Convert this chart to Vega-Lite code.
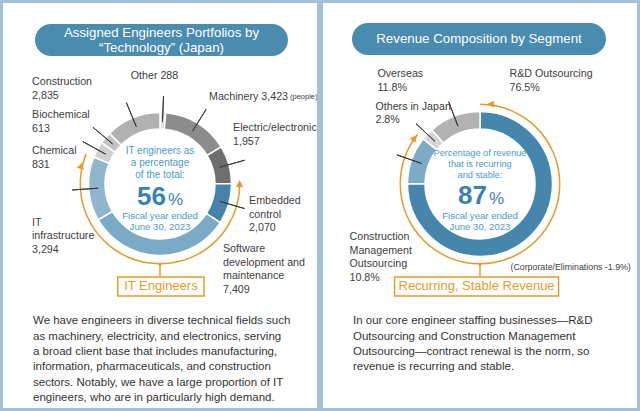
{
  "$schema": "https://vega.github.io/schema/vega-lite/v6.json",
  "background": "#a2c1d8",
  "padding": {"left": 3, "top": 3, "right": 3, "bottom": 3},
  "config": {"view": {"stroke": null, "fill": "#ffffff"}, "font": "Liberation Sans"},
  "datasets": {
    "tech": [
      {"seg": "Other", "v": 288, "group": "Non-IT", "label": "Other 288"},
      {"seg": "Machinery", "v": 3423, "group": "Non-IT", "label": "Machinery 3,423"},
      {"seg": "Electric/electronic", "v": 1957, "group": "Non-IT", "label": "Electric/electronic\n1,957"},
      {"seg": "Embedded control", "v": 2070, "group": "IT", "label": "Embedded\ncontrol\n2,070"},
      {"seg": "Software development and maintenance", "v": 7409, "group": "IT", "label": "Software\ndevelopment and\nmaintenance\n7,409"},
      {"seg": "IT infrastructure", "v": 3294, "group": "IT", "label": "IT\ninfrastructure\n3,294"},
      {"seg": "Chemical", "v": 831, "group": "Non-IT", "label": "Chemical\n831"},
      {"seg": "Biochemical", "v": 613, "group": "Non-IT", "label": "Biochemical\n613"},
      {"seg": "Construction", "v": 2835, "group": "Non-IT", "label": "Construction\n2,835"}
    ],
    "rev": [
      {"seg": "R&D Outsourcing", "v": 76.5, "group": "Recurring", "label": "R&D Outsourcing\n76.5%"},
      {"seg": "Construction Management Outsourcing", "v": 10.8, "group": "Recurring", "label": "Construction\nManagement\nOutsourcing\n10.8%"},
      {"seg": "Others in Japan", "v": 2.8, "group": "Other", "label": "Others in Japan\n2.8%"},
      {"seg": "Overseas", "v": 11.8, "group": "Other", "label": "Overseas\n11.8%"},
      {"seg": "Corporate/Eliminations", "v": -1.9, "group": "Adjustment", "label": "(Corporate/Eliminations -1.9%)"}
    ]
  },
  "columns": 2,
  "spacing": {"row": 0, "column": 6},
  "bounds": "flush",
  "resolve": {"scale": {"fill": "independent", "theta": "independent", "strokeOpacity": "independent", "x": "independent", "y": "independent"}},
  "concat": [
    {
      "width": 314, "height": 62,
      "data": {"values": [{"k": "title", "text": "Assigned Engineers Portfolios by\n“Technology” (Japan)"}]},
      "encoding": {
        "x": {"field": "k", "type": "nominal", "axis": null, "scale": {"type": "band", "paddingInner": 0, "paddingOuter": 0.1206, "align": 0.5246}},
        "y": {"field": "k", "type": "nominal", "axis": null, "scale": {"type": "band", "paddingInner": 0, "paddingOuter": 0.46875, "align": 0.7}}
      },
      "layer": [
        {"mark": {"type": "rect", "cornerRadius": 16, "color": "#4a8bb0"}},
        {"mark": {"type": "text", "color": "#ffffff", "fontSize": 13.3, "lineHeight": 15, "lineBreak": "\n", "baseline": "middle", "dy": -7.5}, "encoding": {"text": {"field": "text"}}}
      ]
    },
    {
      "width": 314, "height": 62,
      "data": {"values": [{"k": "title", "text": "Revenue Composition by Segment"}]},
      "encoding": {
        "x": {"field": "k", "type": "nominal", "axis": null, "scale": {"type": "band", "paddingInner": 0, "paddingOuter": 0.1181, "align": 0.483}},
        "y": {"field": "k", "type": "nominal", "axis": null, "scale": {"type": "band", "paddingInner": 0, "paddingOuter": 0.46875, "align": 0.667}}
      },
      "layer": [
        {"mark": {"type": "rect", "cornerRadius": 16, "color": "#4a8bb0"}},
        {"mark": {"type": "text", "color": "#ffffff", "fontSize": 13.3, "baseline": "middle"}, "encoding": {"text": {"field": "text"}}}
      ]
    },
    {
      "width": 314, "height": 238,
      "layer": [
        {
          "data": {"name": "tech"},
          "transform": [{"window": [{"op": "row_number", "as": "ord"}]}],
          "layer": [
            {"mark": {"type": "arc", "radius": 80.5, "radius2": 79},
             "encoding": {"theta": {"field": "v", "type": "quantitative", "stack": true}, "order": {"field": "ord", "type": "quantitative"},
               "fill": {"condition": {"test": "datum.group === 'IT'", "value": "#e49b2d"}, "value": "transparent"}}},
            {"mark": {"type": "arc", "radius": 71.5, "radius2": 55, "stroke": "#ffffff", "strokeWidth": 1.5},
             "encoding": {"theta": {"field": "v", "type": "quantitative", "stack": true}, "order": {"field": "ord", "type": "quantitative"},
               "fill": {"field": "seg", "type": "nominal", "legend": null, "scale": {
                 "domain": ["Other", "Machinery", "Electric/electronic", "Embedded control", "Software development and maintenance", "IT infrastructure", "Chemical", "Biochemical", "Construction"],
                 "range": ["#dedede", "#8c8c8c", "#6e6e6e", "#4584aa", "#7aaac6", "#8fb6cd", "#d0d0d0", "#c2c2c2", "#b1b1b1"]}}}},
            {"mark": {"type": "arc", "radius": 88, "radius2": 62, "padAngle": 3, "fill": "transparent", "stroke": "#3a3a3a", "strokeWidth": 1},
             "encoding": {"theta": {"field": "v", "type": "quantitative", "stack": true}, "order": {"field": "ord", "type": "quantitative"},
               "strokeOpacity": {"condition": {"test": "datum.seg === 'Software development and maintenance'", "value": 0}, "value": 1}}},
            {"transform": [{"stack": "v", "groupby": [], "sort": [{"field": "ord", "order": "ascending"}], "as": ["t0", "t1"]}, {"filter": "datum.seg === 'Embedded control'"}],
             "mark": {"type": "text", "text": "▲", "radius": 79.75, "fontSize": 12, "color": "#e49b2d", "baseline": "middle", "angle": 0, "dy": -1},
             "encoding": {"theta": {"field": "t0", "type": "quantitative"}}},
            {"transform": [{"stack": "v", "groupby": [], "sort": [{"field": "ord", "order": "ascending"}], "as": ["t0", "t1"]}, {"filter": "datum.seg === 'IT infrastructure'"}],
             "mark": {"type": "text", "text": "▲", "radius": 79.75, "fontSize": 12, "color": "#e49b2d", "baseline": "middle", "angle": 22, "dy": 12},
             "encoding": {"theta": {"field": "t1", "type": "quantitative"}}},
            {"mark": {"type": "text", "clip": true, "radius": 80, "align": "center", "baseline": "middle", "dx": -8.7, "dy": -28.1, "fontSize": 10.7, "lineHeight": 13.5, "lineBreak": "\n", "color": "#404040"},
             "encoding": {"theta": {"field": "v", "type": "quantitative", "stack": true}, "order": {"field": "ord", "type": "quantitative"}, "text": {"condition": {"test": "datum.seg === 'Other'", "field": "label"}, "value": ""}}},
            {"mark": {"type": "text", "clip": true, "radius": 80, "align": "left", "baseline": "middle", "dx": 7, "dy": -18.9, "fontSize": 10.7, "lineHeight": 13.5, "lineBreak": "\n", "color": "#404040"},
             "encoding": {"theta": {"field": "v", "type": "quantitative", "stack": true}, "order": {"field": "ord", "type": "quantitative"}, "text": {"condition": {"test": "datum.seg === 'Machinery'", "field": "label"}, "value": ""}}},
            {"mark": {"type": "text", "clip": true, "radius": 80, "align": "left", "baseline": "middle", "dx": 88, "dy": -18.9, "fontSize": 7.5, "color": "#404040"},
             "encoding": {"theta": {"field": "v", "type": "quantitative", "stack": true}, "order": {"field": "ord", "type": "quantitative"}, "text": {"condition": {"test": "datum.seg === 'Machinery'", "value": "(people)"}, "value": ""}}},
            {"mark": {"type": "text", "clip": true, "radius": 80, "align": "left", "baseline": "middle", "dx": -4, "dy": -34.2, "fontSize": 10.7, "lineHeight": 13.5, "lineBreak": "\n", "color": "#404040"},
             "encoding": {"theta": {"field": "v", "type": "quantitative", "stack": true}, "order": {"field": "ord", "type": "quantitative"}, "text": {"condition": {"test": "datum.seg === 'Electric/electronic'", "field": "label"}, "value": ""}}},
            {"mark": {"type": "text", "clip": true, "radius": 80, "align": "left", "baseline": "middle", "dx": 12.2, "dy": -5.3, "fontSize": 10.7, "lineHeight": 13.5, "lineBreak": "\n", "color": "#404040"},
             "encoding": {"theta": {"field": "v", "type": "quantitative", "stack": true}, "order": {"field": "ord", "type": "quantitative"}, "text": {"condition": {"test": "datum.seg === 'Embedded control'", "field": "label"}, "value": ""}}},
            {"mark": {"type": "text", "clip": true, "radius": 80, "align": "left", "baseline": "middle", "dx": 64.8, "dy": -14.8, "fontSize": 10.7, "lineHeight": 13.5, "lineBreak": "\n", "color": "#404040"},
             "encoding": {"theta": {"field": "v", "type": "quantitative", "stack": true}, "order": {"field": "ord", "type": "quantitative"}, "text": {"condition": {"test": "datum.seg === 'Software development and maintenance'", "field": "label"}, "value": ""}}},
            {"mark": {"type": "text", "clip": true, "radius": 80, "align": "left", "baseline": "middle", "dx": -48.2, "dy": 33.2, "fontSize": 10.7, "lineHeight": 13.5, "lineBreak": "\n", "color": "#404040"},
             "encoding": {"theta": {"field": "v", "type": "quantitative", "stack": true}, "order": {"field": "ord", "type": "quantitative"}, "text": {"condition": {"test": "datum.seg === 'IT infrastructure'", "field": "label"}, "value": ""}}},
            {"mark": {"type": "text", "clip": true, "radius": 80, "align": "left", "baseline": "middle", "dx": -57.9, "dy": 5.8, "fontSize": 10.7, "lineHeight": 13.5, "lineBreak": "\n", "color": "#404040"},
             "encoding": {"theta": {"field": "v", "type": "quantitative", "stack": true}, "order": {"field": "ord", "type": "quantitative"}, "text": {"condition": {"test": "datum.seg === 'Chemical'", "field": "label"}, "value": ""}}},
            {"mark": {"type": "text", "clip": true, "radius": 80, "align": "left", "baseline": "middle", "dx": -66.8, "dy": -17.3, "fontSize": 10.7, "lineHeight": 13.5, "lineBreak": "\n", "color": "#404040"},
             "encoding": {"theta": {"field": "v", "type": "quantitative", "stack": true}, "order": {"field": "ord", "type": "quantitative"}, "text": {"condition": {"test": "datum.seg === 'Biochemical'", "field": "label"}, "value": ""}}},
            {"mark": {"type": "text", "clip": true, "radius": 80, "align": "left", "baseline": "middle", "dx": -97.4, "dy": -27.9, "fontSize": 10.7, "lineHeight": 13.5, "lineBreak": "\n", "color": "#404040"},
             "encoding": {"theta": {"field": "v", "type": "quantitative", "stack": true}, "order": {"field": "ord", "type": "quantitative"}, "text": {"condition": {"test": "datum.seg === 'Construction'", "field": "label"}, "value": ""}}}
          ]
        },
        {
          "data": {"values": [{"top": "IT engineers as\na percentage\nof the total:", "pct": "56", "unit": "%", "sub": "Fiscal year ended\nJune 30, 2023"}]},
          "layer": [
            {"mark": {"type": "text", "fontSize": 10, "lineHeight": 12, "lineBreak": "\n", "color": "#4a9cc6", "baseline": "middle", "dy": -33}, "encoding": {"text": {"field": "top"}}},
            {"mark": {"type": "text", "fontSize": 26, "fontWeight": "bold", "color": "#3884b0", "align": "right", "baseline": "alphabetic", "dx": 6, "dy": 21}, "encoding": {"text": {"field": "pct"}}},
            {"mark": {"type": "text", "fontSize": 17, "color": "#3884b0", "align": "left", "baseline": "alphabetic", "dx": 8, "dy": 21}, "encoding": {"text": {"field": "unit"}}},
            {"mark": {"type": "text", "fontSize": 9.6, "lineHeight": 11, "lineBreak": "\n", "color": "#4a9cc6", "baseline": "middle", "dy": 32.2}, "encoding": {"text": {"field": "sub"}}}
          ]
        },
        {
          "data": {"values": [{"k": "box", "text": "IT Engineers"}]},
          "layer": [
            {"mark": {"type": "arc", "theta": 3.14159, "theta2": 3.14159, "radius": 93, "radius2": 79.75, "fill": "transparent", "stroke": "#e49b2d", "strokeWidth": 1.5}, "encoding": {}},
            {"mark": {"type": "text", "text": "●", "theta": 3.14159, "radius": 79.75, "fontSize": 7, "color": "#e49b2d", "baseline": "middle"}, "encoding": {}},
            {"mark": {"type": "rect", "fill": "#ffffff", "stroke": "#e49b2d", "strokeWidth": 1.5},
             "encoding": {
               "x": {"field": "k", "type": "nominal", "axis": null, "scale": {"type": "band", "paddingInner": 0.242, "paddingOuter": 1, "align": 0.504}},
               "y": {"field": "k", "type": "nominal", "axis": null, "scale": {"type": "band", "paddingInner": 0.8265, "paddingOuter": 1, "align": 0.968}}}},
            {"mark": {"type": "text", "color": "#e49b2d", "fontSize": 13, "baseline": "middle"},
             "encoding": {
               "x": {"field": "k", "type": "nominal", "axis": null, "scale": {"type": "band", "paddingInner": 0.242, "paddingOuter": 1, "align": 0.504}},
               "y": {"field": "k", "type": "nominal", "axis": null, "scale": {"type": "band", "paddingInner": 0.8265, "paddingOuter": 1, "align": 0.968}},
               "text": {"field": "text"}}}
          ]
        }
      ]
    },
    {
      "width": 314, "height": 238,
      "layer": [
        {
          "data": {"name": "rev"},
          "transform": [{"filter": "datum.v > 0"}, {"window": [{"op": "row_number", "as": "ord"}]}],
          "layer": [
            {"mark": {"type": "arc", "radius": 80.5, "radius2": 79},
             "encoding": {"theta": {"field": "v", "type": "quantitative", "stack": true}, "order": {"field": "ord", "type": "quantitative"},
               "fill": {"condition": {"test": "datum.group === 'Recurring'", "value": "#e49b2d"}, "value": "transparent"}}},
            {"mark": {"type": "arc", "radius": 72.5, "radius2": 55, "stroke": "#ffffff", "strokeWidth": 1.5},
             "encoding": {"theta": {"field": "v", "type": "quantitative", "stack": true}, "order": {"field": "ord", "type": "quantitative"},
               "fill": {"field": "seg", "type": "nominal", "legend": null, "scale": {
                 "domain": ["R&D Outsourcing", "Construction Management Outsourcing", "Others in Japan", "Overseas"],
                 "range": ["#4686ac", "#7cabc6", "#d6d6d6", "#b2b2b2"]}}}},
            {"mark": {"type": "arc", "radius": 88, "radius2": 62, "padAngle": 3, "fill": "transparent", "stroke": "#3a3a3a", "strokeWidth": 1},
             "encoding": {"theta": {"field": "v", "type": "quantitative", "stack": true}, "order": {"field": "ord", "type": "quantitative"},
               "strokeOpacity": {"condition": {"test": "datum.seg === 'R&D Outsourcing'", "value": 0}, "value": 1}}},
            {"transform": [{"stack": "v", "groupby": [], "sort": [{"field": "ord", "order": "ascending"}], "as": ["t0", "t1"]}, {"filter": "datum.seg === 'R&D Outsourcing'"}],
             "mark": {"type": "text", "text": "▲", "radius": 79.75, "fontSize": 12, "color": "#e49b2d", "baseline": "middle", "angle": -90, "dy": 10},
             "encoding": {"theta": {"field": "t0", "type": "quantitative"}}},
            {"transform": [{"stack": "v", "groupby": [], "sort": [{"field": "ord", "order": "ascending"}], "as": ["t0", "t1"]}, {"filter": "datum.seg === 'Construction Management Outsourcing'"}],
             "mark": {"type": "text", "text": "▲", "radius": 79.75, "fontSize": 12, "color": "#e49b2d", "baseline": "middle", "angle": 38, "dy": 4},
             "encoding": {"theta": {"field": "t1", "type": "quantitative"}}},
            {"mark": {"type": "text", "clip": true, "radius": 80, "align": "left", "baseline": "middle", "dx": -27, "dy": -166.2, "fontSize": 10.7, "lineHeight": 14, "lineBreak": "\n", "color": "#404040"},
             "encoding": {"theta": {"field": "v", "type": "quantitative", "stack": true}, "order": {"field": "ord", "type": "quantitative"}, "text": {"condition": {"test": "datum.seg === 'R&D Outsourcing'", "field": "label"}, "value": ""}}},
            {"mark": {"type": "text", "clip": true, "radius": 80, "align": "left", "baseline": "middle", "dx": -55, "dy": 79.7, "fontSize": 10.7, "lineHeight": 13.5, "lineBreak": "\n", "color": "#404040"},
             "encoding": {"theta": {"field": "v", "type": "quantitative", "stack": true}, "order": {"field": "ord", "type": "quantitative"}, "text": {"condition": {"test": "datum.seg === 'Construction Management Outsourcing'", "field": "label"}, "value": ""}}},
            {"mark": {"type": "text", "clip": true, "radius": 80, "align": "left", "baseline": "middle", "dx": -46.4, "dy": -21.8, "fontSize": 10.7, "lineHeight": 12.5, "lineBreak": "\n", "color": "#404040"},
             "encoding": {"theta": {"field": "v", "type": "quantitative", "stack": true}, "order": {"field": "ord", "type": "quantitative"}, "text": {"condition": {"test": "datum.seg === 'Others in Japan'", "field": "label"}, "value": ""}}},
            {"mark": {"type": "text", "clip": true, "radius": 80, "align": "left", "baseline": "middle", "dx": -74.1, "dy": -35.2, "fontSize": 10.7, "lineHeight": 14, "lineBreak": "\n", "color": "#404040"},
             "encoding": {"theta": {"field": "v", "type": "quantitative", "stack": true}, "order": {"field": "ord", "type": "quantitative"}, "text": {"condition": {"test": "datum.seg === 'Overseas'", "field": "label"}, "value": ""}}}
          ]
        },
        {
          "data": {"name": "rev"},
          "transform": [{"filter": "datum.v < 0"}],
          "mark": {"type": "text", "align": "left", "baseline": "middle", "dx": 30.5, "dy": 83, "fontSize": 8.8, "color": "#404040"},
          "encoding": {"text": {"field": "label"}}
        },
        {
          "data": {"values": [{"top": "Percentage of revenue\nthat is recurring\nand stable:", "pct": "87", "unit": "%", "sub": "Fiscal year ended\nJune 30, 2023"}]},
          "layer": [
            {"mark": {"type": "text", "fontSize": 9.2, "lineHeight": 11, "lineBreak": "\n", "color": "#4a9cc6", "baseline": "middle", "dy": -30.7}, "encoding": {"text": {"field": "top"}}},
            {"mark": {"type": "text", "fontSize": 26, "fontWeight": "bold", "color": "#3884b0", "align": "right", "baseline": "alphabetic", "dx": 7, "dy": 20}, "encoding": {"text": {"field": "pct"}}},
            {"mark": {"type": "text", "fontSize": 17, "color": "#3884b0", "align": "left", "baseline": "alphabetic", "dx": 9, "dy": 20}, "encoding": {"text": {"field": "unit"}}},
            {"mark": {"type": "text", "fontSize": 9.6, "lineHeight": 11, "lineBreak": "\n", "color": "#4a9cc6", "baseline": "middle", "dy": 32.2}, "encoding": {"text": {"field": "sub"}}}
          ]
        },
        {
          "data": {"values": [{"k": "box", "text": "Recurring, Stable Revenue"}]},
          "layer": [
            {"mark": {"type": "arc", "theta": 3.14159, "theta2": 3.14159, "radius": 93, "radius2": 79.75, "fill": "transparent", "stroke": "#e49b2d", "strokeWidth": 1.5}, "encoding": {}},
            {"mark": {"type": "text", "text": "●", "theta": 3.14159, "radius": 79.75, "fontSize": 7, "color": "#e49b2d", "baseline": "middle"}, "encoding": {}},
            {"mark": {"type": "rect", "fill": "#ffffff", "stroke": "#e49b2d", "strokeWidth": 1.5},
             "encoding": {
               "x": {"field": "k", "type": "nominal", "axis": null, "scale": {"type": "band", "paddingInner": 0, "paddingOuter": 0.4573, "align": 0.477}},
               "y": {"field": "k", "type": "nominal", "axis": null, "scale": {"type": "band", "paddingInner": 0.8265, "paddingOuter": 1, "align": 0.968}}}},
            {"mark": {"type": "text", "color": "#e49b2d", "fontSize": 13, "baseline": "middle"},
             "encoding": {
               "x": {"field": "k", "type": "nominal", "axis": null, "scale": {"type": "band", "paddingInner": 0, "paddingOuter": 0.4573, "align": 0.477}},
               "y": {"field": "k", "type": "nominal", "axis": null, "scale": {"type": "band", "paddingInner": 0.8265, "paddingOuter": 1, "align": 0.968}},
               "text": {"field": "text"}}}
          ]
        }
      ]
    },
    {
      "width": 314, "height": 105,
      "data": {"values": [{"k": "p", "text": "We have engineers in diverse technical fields such\nas machinery, electricity, and electronics, serving\na broad client base that includes manufacturing,\ninformation, pharmaceuticals, and construction\nsectors. Notably, we have a large proportion of IT\nengineers, who are in particularly high demand."}]},
      "mark": {"type": "text", "align": "left", "baseline": "top", "fontSize": 11.5, "lineHeight": 15.3, "lineBreak": "\n", "color": "#333333"},
      "encoding": {
        "x": {"field": "k", "type": "nominal", "axis": null, "scale": {"type": "point", "align": 0.0955}},
        "y": {"field": "k", "type": "nominal", "axis": null, "scale": {"type": "point", "align": 0.119}},
        "text": {"field": "text"}
      }
    },
    {
      "width": 314, "height": 105,
      "data": {"values": [{"k": "p", "text": "In our core engineer staffing businesses—R&D\nOutsourcing and Construction Management\nOutsourcing—contract renewal is the norm, so\nrevenue is recurring and stable."}]},
      "mark": {"type": "text", "align": "left", "baseline": "top", "fontSize": 11.5, "lineHeight": 15.3, "lineBreak": "\n", "color": "#333333"},
      "encoding": {
        "x": {"field": "k", "type": "nominal", "axis": null, "scale": {"type": "point", "align": 0.0955}},
        "y": {"field": "k", "type": "nominal", "axis": null, "scale": {"type": "point", "align": 0.119}},
        "text": {"field": "text"}
      }
    }
  ]
}
